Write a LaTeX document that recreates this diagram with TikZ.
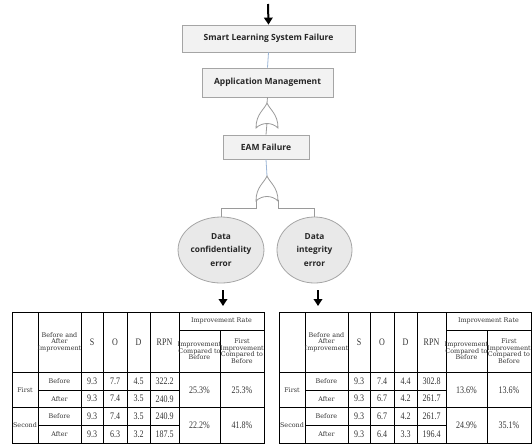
\documentclass[tikz,border=0pt]{standalone}
\usepackage{fontspec}
\setsansfont{Open Sans}
\newfontfamily\tabfont{DejaVu Serif}
\newfontfamily\numfont[FakeStretch=0.8]{Liberation Serif}
\usetikzlibrary{arrows.meta,shapes.geometric}
\definecolor{boxfill}{HTML}{F2F2F2}
\definecolor{boxdraw}{HTML}{A5A5A5}
\definecolor{linkblue}{HTML}{9BB5D6}
\definecolor{gatedraw}{HTML}{9A9A9A}
\definecolor{ellfill}{HTML}{E9E9E9}
\definecolor{txtdark}{HTML}{262626}
\tikzset{
  ftbox/.style={draw=boxdraw, fill=boxfill, line width=0.8pt, inner sep=0pt, text=txtdark,
    font=\sffamily\bfseries\fontsize{8.5}{10}\selectfont},
  errnode/.style={ellipse, draw=boxdraw, fill=ellfill, line width=0.8pt, inner sep=0pt,
    minimum width=75pt, minimum height=66pt, align=center, text=txtdark,
    font=\sffamily\bfseries\fontsize{8.3}{13.5}\selectfont},
  linkline/.style={draw=linkblue, line width=0.8pt},
  greyline/.style={draw=gatedraw, line width=0.8pt},
  gateline/.style={draw=gatedraw, line width=0.8pt, fill=white},
  bigarrow/.style={draw=black, line width=2pt, -{Triangle[length=7pt,width=8.5pt]}},
  tabline/.style={draw=black, line width=0.7pt},
  tabtxt/.style={inner sep=0pt, align=center, text=black!80,
    font=\tabfont\fontsize{6.4}{6.6}\selectfont},
  tabnum/.style={inner sep=0pt, align=center, text=black!80,
    font=\numfont\fontsize{10}{10}\selectfont}
}
\newcommand\orgate[3]{%
  \draw[gateline] (#1,#2) .. controls ({#1-3},{#2+7}) and ({#1-11},{#2+11}) .. ({#1-11},#3)
    .. controls ({#1-5},{#3-6}) and ({#1+5},{#3-6}) .. ({#1+11},#3)
    .. controls ({#1+11},{#2+11}) and ({#1+3},{#2+7}) .. cycle;}
\newcommand\fmeagrid[1]{%
  \draw[tabline] (0,312) rectangle (252,443);
  \draw[tabline] (167,330) -- (252,330);
  \draw[tabline] (0,372) -- (252,372);
  \draw[tabline] (0,407.5) -- (252,407.5);
  \draw[tabline] (26,390) -- (167,390);
  \draw[tabline] (26,425) -- (167,425);
  \foreach \cx in {26,69,91,115,138,167} {\draw[tabline] (\cx,312) -- (\cx,443);}
  \draw[tabline] (208,330) -- (208,443);
  \node[tabtxt] (#1-ba) at (47.5,342) {Before and\\After\\Improvement};
  \node[tabnum] (#1-hs) at (80,342) {S};
  \node[tabnum] (#1-ho) at (103,342) {O};
  \node[tabnum] (#1-hd) at (126.5,342) {D};
  \node[tabnum] (#1-hrpn) at (152.5,342) {RPN};
  \node[tabtxt] (#1-ir) at (209.5,321) {Improvement Rate};
  \node[tabtxt] (#1-icb) at (187.5,351) {Improvement\\Compared to\\Before};
  \node[tabtxt] (#1-ficb) at (230,351) {First\\Improvement\\Compared to\\Before};
  \node[tabtxt] (#1-first) at (13,389.75) {First};
  \node[tabtxt] (#1-second) at (13,425.25) {Second};
}
\newcommand\fmearow[7]{%
  \node[tabtxt] (#1-l) at (47.5,#2) {#3};
  \node[tabnum] (#1-s) at (80,#2) {#4};
  \node[tabnum] (#1-o) at (103,#2) {#5};
  \node[tabnum] (#1-d) at (126.5,#2) {#6};
  \node[tabnum] (#1-r) at (152.5,#2) {#7};
}
\newcommand\fmearate[4]{%
  \node[tabnum] (#1-a) at (187.5,#2) {#3};
  \node[tabnum] (#1-b) at (230,#2) {#4};
}
\begin{document}
\begin{tikzpicture}[x=1pt,y=-1pt]
\useasboundingbox (0,0) rectangle (532,445);
% fault tree
\node[ftbox, minimum width=173pt, minimum height=27pt] (slsf) at (268.5,38.5) {Smart Learning System Failure};
\node[ftbox, minimum width=131pt, minimum height=29pt] (appm) at (267.5,82.5) {Application Management};
\node[ftbox, minimum width=86pt, minimum height=24pt] (eam) at (266,147) {EAM Failure};
\node[errnode] (dce) at (221,250) {Data\\confidentiality\\error};
\node[errnode] (die) at (314.5,250) {Data\\integrity\\error};
\coordinate (top0) at (268,4);
\coordinate (g1a) at (267,103);
\coordinate (g1b) at (267,123);
\coordinate (g2a) at (267,176);
\coordinate (g2l) at (256,200);
\coordinate (g2r) at (278,200);
\coordinate (ar1s) at (223,290);
\coordinate (ar1e) at (223,306);
\coordinate (ar2s) at (318,290);
\coordinate (ar2e) at (318,306);
\draw[bigarrow] (top0) -- (slsf.north);
\draw[linkline] (slsf.south) -- (appm.north);
\draw[greyline] (appm.south) -- (g1a);
\draw[greyline] (g1b) -- (eam.north);
\draw[linkline] (eam.south) -- (g2a);
\draw[greyline] (g2l) -- ++(0,8) -| (dce.north);
\draw[greyline] (g2r) -- ++(0,8) -| (die.north);
\orgate{267}{103}{128}
\orgate{267}{176}{201}
\draw[bigarrow] (ar1s) -- (ar1e);
\draw[bigarrow] (ar2s) -- (ar2e);
% left table
\begin{scope}[xshift=12pt]
  \fmeagrid{L}
  \fmearow{L1}{381}{Before}{9.3}{7.7}{4.5}{322.2}
  \fmearow{L2}{398.75}{After}{9.3}{7.4}{3.5}{240.9}
  \fmearow{L3}{416.25}{Before}{9.3}{7.4}{3.5}{240.9}
  \fmearow{L4}{434.25}{After}{9.3}{6.3}{3.2}{187.5}
  \fmearate{LA}{389.75}{25.3\%}{25.3\%}
  \fmearate{LB}{425.25}{22.2\%}{41.8\%}
\end{scope}
% right table
\begin{scope}[xshift=279pt]
  \fmeagrid{R}
  \fmearow{R1}{381}{Before}{9.3}{7.4}{4.4}{302.8}
  \fmearow{R2}{398.75}{After}{9.3}{6.7}{4.2}{261.7}
  \fmearow{R3}{416.25}{Before}{9.3}{6.7}{4.2}{261.7}
  \fmearow{R4}{434.25}{After}{9.3}{6.4}{3.3}{196.4}
  \fmearate{RA}{389.75}{13.6\%}{13.6\%}
  \fmearate{RB}{425.25}{24.9\%}{35.1\%}
\end{scope}
\end{tikzpicture}
\end{document}
